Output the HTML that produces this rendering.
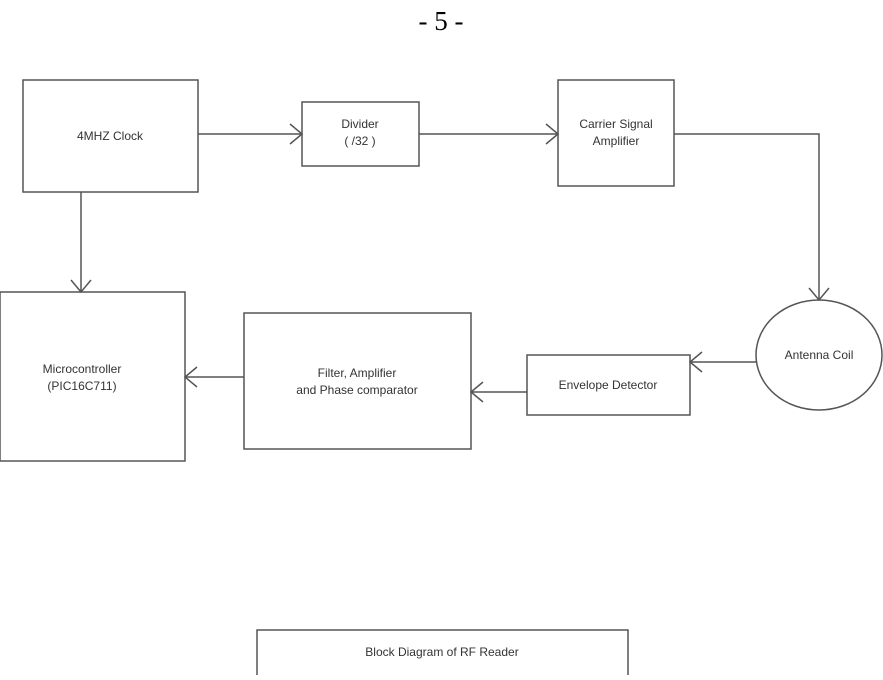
<!DOCTYPE html>
<html><head><style>
body{margin:0;width:883px;height:675px;background:#fff;overflow:hidden}
</style></head><body>
<svg width="883" height="675" xmlns="http://www.w3.org/2000/svg" font-family="Liberation Sans, sans-serif" font-size="12" fill="#444">
<text x="441" y="30" text-anchor="middle" font-family="Liberation Serif, serif" font-size="27" fill="#000">- 5 -</text>
<g stroke="#555" stroke-width="1.5" fill="none">
<rect x="23" y="80" width="175" height="112"/>
<rect x="302" y="102" width="117" height="64"/>
<rect x="558" y="80" width="116" height="106"/>
<rect x="0" y="292" width="185" height="169"/>
<rect x="244" y="313" width="227" height="136"/>
<rect x="527" y="355" width="163" height="60"/>
<ellipse cx="819" cy="355" rx="63" ry="55"/>
<rect x="257" y="630" width="371" height="46"/>
<path d="M198 134H302M290 124L302 134L290 144"/>
<path d="M419 134H558M546 124L558 134L546 144"/>
<path d="M674 134H819V300M809 288L819 300L829 288"/>
<path d="M81 192V292M71 280L81 292L91 280"/>
<path d="M244 377H185M197 367L185 377L197 387"/>
<path d="M527 392H471M483 382L471 392L483 402"/>
<path d="M757 362H690M702 352L690 362L702 372"/>
</g>
<g text-anchor="middle" fill="#333">
<text x="110" y="140">4MHZ Clock</text>
<text x="360" y="128">Divider</text>
<text x="360" y="145">( /32 )</text>
<text x="616" y="128">Carrier Signal</text>
<text x="616" y="145">Amplifier</text>
<text x="819" y="359">Antenna Coil</text>
<text x="608" y="389">Envelope Detector</text>
<text x="357" y="377">Filter, Amplifier</text>
<text x="357" y="394">and Phase comparator</text>
<text x="82" y="373">Microcontroller</text>
<text x="82" y="390">(PIC16C711)</text>
<text x="442" y="656">Block Diagram of  RF Reader</text>
</g>
</svg>
</body></html>
